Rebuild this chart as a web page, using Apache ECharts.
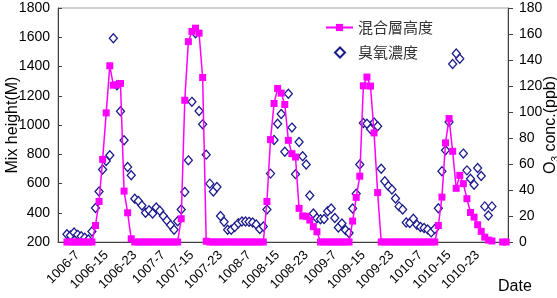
<!DOCTYPE html>
<html>
<head>
<meta charset="utf-8">
<script src="https://cdn.jsdelivr.net/npm/echarts@6/dist/echarts.min.js"></script>
<style>
  html, body { margin: 0; padding: 0; background: #fff; }
  #chart { width: 557px; height: 298px; }
</style>
</head>
<body>
<div id="chart"></div>
<script>
// hourly categories, day-hour (1006-2 ... 1011-7)
let categories = [
  "1006-2", "1006-3", "1006-4", "1006-5", "1006-6", "1006-7", "1006-8", "1006-9", "1006-10", "1006-11", "1006-12",
  "1006-13", "1006-14", "1006-15", "1006-16", "1006-17", "1006-18", "1006-19", "1006-20", "1006-21", "1006-22", "1006-23",
  "1007-0", "1007-1", "1007-2", "1007-3", "1007-4", "1007-5", "1007-6", "1007-7", "1007-8", "1007-9", "1007-10", "1007-11",
  "1007-12", "1007-13", "1007-14", "1007-15", "1007-16", "1007-17", "1007-18", "1007-19", "1007-20", "1007-21", "1007-22", "1007-23",
  "1008-0", "1008-1", "1008-2", "1008-3", "1008-4", "1008-5", "1008-6", "1008-7", "1008-8", "1008-9", "1008-10", "1008-11",
  "1008-12", "1008-13", "1008-14", "1008-15", "1008-16", "1008-17", "1008-18", "1008-19", "1008-20", "1008-21", "1008-22", "1008-23",
  "1009-0", "1009-1", "1009-2", "1009-3", "1009-4", "1009-5", "1009-6", "1009-7", "1009-8", "1009-9", "1009-10", "1009-11",
  "1009-12", "1009-13", "1009-14", "1009-15", "1009-16", "1009-17", "1009-18", "1009-19", "1009-20", "1009-21", "1009-22", "1009-23",
  "1010-0", "1010-1", "1010-2", "1010-3", "1010-4", "1010-5", "1010-6", "1010-7", "1010-8", "1010-9", "1010-10", "1010-11",
  "1010-12", "1010-13", "1010-14", "1010-15", "1010-16", "1010-17", "1010-18", "1010-19", "1010-20", "1010-21", "1010-22", "1010-23",
  "1011-0", "1011-1", "1011-2", "1011-3", "1011-4", "1011-5", "1011-6", "1011-7"
];

// labels printed under the axis
let dateLabels = [
  "1006-7", "1006-15", "1006-23", "1007-7", "1007-15", "1007-23", "1008-7", "1008-15",
  "1008-23", "1009-7", "1009-15", "1009-23", "1010-7", "1010-15", "1010-23"
];

// 混合層高度 (M)
let mixHeight = [
  null, null, 200, 200, 200, 200, 200, 200, 200, 200,
  313, 477, 765, 1083, 1405, 1272, 1275, 1284, 548, 400, 222,
  200, 200, 200, 200, 200, 200, 200, 200, 200, 200, 200, 200, 200,
  359, 1169, 1570, 1640, 1662, 1628, 1325, 205,
  200, 200, 200, 200, 200, 200, 200, 200, 200, 200, 200, 200, 200, 200, 200, 200,
  477, 900, 1147, 1250, 1218, 1140, 895, 804, 781, 430, 378, 376, 350, 305, 270,
  200, 200, 200, 200, 200, 200, 200, 200, 200,
  343, 505, 650, 1268, 1328, 1266, 946, 538,
  200, 200, 200, 200, 200, 200, 200, 200, 200, 200, 200, 200, 200, 200, 200, 200,
  313, 507, 878, 1044, 820, 567, 656, 599, 496, 402, 370, 318, 273, 233, 213, 207,
  null, null, 200, 200
];

// 臭氧濃度 (ppb)
let o3Conc = [
  null, null, 6.0, 5.0, 7.3, 5.5, 4.5, 3.2, 1.9, 8.1,
  26.1, 38.9, 55.7, 62.3, 66.7, 156.7, 120.6, 100.6, 78.2, 57.7, 51.3,
  33.3, 31.5, 28, 22.5, 24.5, 22, 26.5, 24, 20, 16.5, 13, 9.5, 16,
  25, 38.4, 62.8, 107.8, 160.5, 100.7, 90.5, 67.2,
  44.9, 38.9, 42.3, 20, 15.5, 9.5, 9.5, 11.5, 14.5, 15.8, 15.8, 15.5, 15, 13.5, 10, 12,
  25, 52.6, 78.5, 91, 98.5, 69.5, 114, 88, 52.2, 76.9, 66, 59.6, 35.8, 22, 18.2,
  17.5, 17.7, 23.6, 25.8, 18.5, 11.2, 14.2, 9.2, 7,
  25.8, 37.2, 59.6, 91.5, 91, 87, 92, 89,
  56.4, 46.8, 43, 40.3, 33.5, 27.4, 25, 15, 14.6, 17.9, 13.3, 11.6, 10.8, 9.7, 7.4, 10,
  26, 54.5, 70.5, 92.4, 137, 145, 141, 68, 55.1, 48.7, 44.1, 56.9, 50.7, 27.4, 20.4, 27.4,
  null, null, null, null
];

let leftTicks = [200, 1800, 200];   // min, max, step
let rightTicks = [0, 180, 20];

let fontLatin = "'Liberation Sans', Arial, sans-serif";
let fontCjk = "'Noto Sans CJK TC', 'Noto Sans CJK SC', sans-serif";
let axisColor = "#404040";

let myChart = echarts.init(document.getElementById("chart"));
let option = {
  animation: false,
  backgroundColor: "#fff",
  grid: {
    left: 58,
    right: 49,
    top: 8,
    bottom: 56,
    containLabel: false,
    outerBoundsMode: "none",
    show: true,
    borderColor: "#a0a0a0",
    borderWidth: 1
  },
  legend: [
    {
      data: ["混合層高度"],
      left: 320,
      top: 15,
      itemWidth: 27,
      itemHeight: 9,
      textStyle: { fontFamily: fontCjk, fontSize: 15, color: "#333" }
    },
    {
      data: ["臭氧濃度"],
      left: 329,
      top: 40,
      itemWidth: 10,
      itemHeight: 10,
      textStyle: { fontFamily: fontCjk, fontSize: 15, color: "#333", padding: [0, 0, 0, 8] }
    }
  ],
  xAxis: {
    type: "category",
    data: categories,
    boundaryGap: true,
    name: "Date",
    nameLocation: "end",
    nameGap: -10,
    nameMoveOverlap: false,
    nameTextStyle: {
      fontFamily: fontLatin,
      fontSize: 16,
      color: "#000",
      verticalAlign: "top",
      padding: [37, 0, 0, 0]
    },
    axisLine: { lineStyle: { color: axisColor, width: 1 } },
    axisTick: {
      inside: true,
      length: 4,
      interval: function (index) {
        return index % 24 === 16;
      },
      lineStyle: { color: axisColor }
    },
    axisLabel: {
      rotate: 45,
      margin: 11,
      fontFamily: fontLatin,
      fontSize: 13,
      color: "#000",
      interval: function (index, value) {
        return dateLabels.indexOf(value) >= 0;
      }
    },
    splitLine: { show: false }
  },
  yAxis: [
    {
      type: "value",
      min: leftTicks[0],
      max: leftTicks[1],
      interval: leftTicks[2],
      name: "Mix height(M)",
      nameLocation: "middle",
      nameGap: 37,
      nameMoveOverlap: false,
      nameTextStyle: { fontFamily: fontLatin, fontSize: 16, color: "#000" },
      axisLine: { show: true, lineStyle: { color: axisColor } },
      axisTick: { show: true, inside: true, length: 4, lineStyle: { color: axisColor } },
      axisLabel: {
        margin: 8,
        fontFamily: fontLatin,
        fontSize: 14,
        color: "#000",
        formatter: function (v) { return String(v); }
      },
      splitLine: { show: false }
    },
    {
      type: "value",
      position: "right",
      min: rightTicks[0],
      max: rightTicks[1],
      interval: rightTicks[2],
      name: "{o|O}{s|3}{o| conc.(ppb)}",
      nameLocation: "middle",
      nameRotate: 90,
      nameGap: 33,
      nameMoveOverlap: false,
      nameTextStyle: {
        fontFamily: fontLatin,
        fontSize: 16,
        color: "#000",
        rich: {
          o: { fontFamily: fontLatin, fontSize: 16, lineHeight: 20, color: "#000" },
          s: { fontFamily: fontLatin, fontSize: 10, lineHeight: 10, verticalAlign: "bottom", color: "#000" }
        }
      },
      axisLine: { show: true, lineStyle: { color: axisColor } },
      axisTick: { show: true, inside: false, length: 5, lineStyle: { color: axisColor } },
      axisLabel: { margin: 11, fontFamily: fontLatin, fontSize: 14, color: "#000" },
      splitLine: { show: false }
    }
  ],
  series: [
    {
      name: "混合層高度",
      type: "line",
      yAxisIndex: 0,
      data: mixHeight,
      connectNulls: false,
      symbol: "rect",
      symbolSize: 7,
      showAllSymbol: true,
      itemStyle: { color: "#ff00ff" },
      lineStyle: { color: "#ff00ff", width: 1.5 },
      emphasis: { disabled: true }
    },
    {
      name: "臭氧濃度",
      type: "scatter",
      yAxisIndex: 1,
      data: o3Conc,
      symbol: "diamond",
      symbolSize: [8, 9],
      itemStyle: { color: "#ffffff", borderColor: "#1a1a8c", borderWidth: 1.3, opacity: 1 },
      emphasis: { disabled: true }
    }
  ]
};
myChart.setOption(option, true);
</script>
</body>
</html>
